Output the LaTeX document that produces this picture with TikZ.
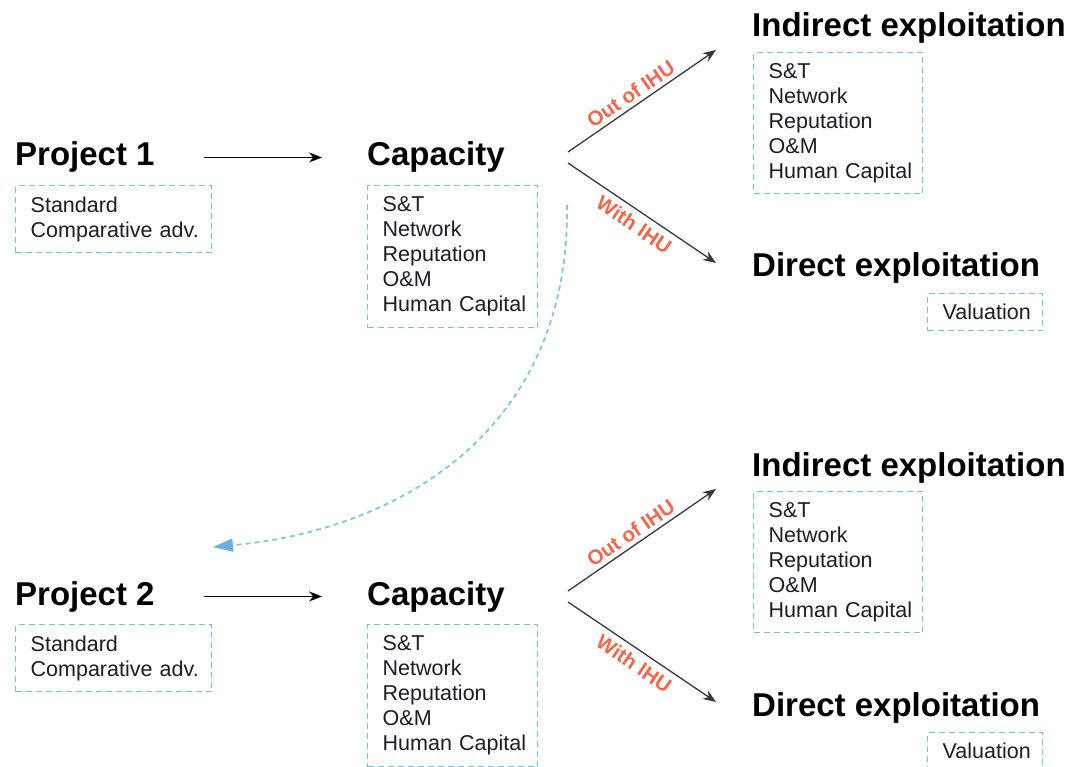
\documentclass[tikz,border=0pt]{standalone}
\usepackage{fontspec}
\setmainfont{Liberation Sans}
\usetikzlibrary{arrows.meta}
\definecolor{boxblue}{HTML}{6CC3EE}
\definecolor{curveblue}{HTML}{7EC6F0}
\definecolor{tipblue}{HTML}{6AAFE3}
\definecolor{lblred}{HTML}{F2664A}
\definecolor{txt}{HTML}{1C1C28}
\definecolor{branchgray}{HTML}{333840}
\newcommand{\oneline}[1]{\mbox{#1}}
\begin{document}
\begin{tikzpicture}[x=1pt,y=-1pt,
  title/.style={font=\fontsize{33}{38}\selectfont\bfseries, inner sep=0pt, anchor=base west},
  listbox/.style={draw=boxblue, line width=1.4pt, dash pattern=on 6pt off 4pt, anchor=north west,
    align=left, inner xsep=15pt, inner ysep=0pt, font=\fontsize{21.5}{25}\selectfont, text=txt},
  flow/.style={-{Stealth[length=13pt,width=10pt]}, line width=1.5pt},
  branch/.style={-{Stealth[length=13pt,width=10pt]}, line width=1.3pt, draw=branchgray},
  lbl/.style={font=\fontsize{20.5}{24}\selectfont\bfseries, text=lblred, sloped, inner sep=2pt}
]
\useasboundingbox (0,0) rectangle (1077,767);

\foreach \dy/\s in {0/1,439/2}{
  \node[title] (p\s) at (15,166+\dy) {Project \s};
  \node[listbox, text width=166pt, minimum height=67pt] (pb\s) at (15,185+\dy)
    {\oneline{Standard}\\\oneline{Comparative adv.}};
  \node[title] (c\s) at (367,166+\dy) {Capacity};
  \node[listbox, text width=140pt, minimum height=142pt] (cb\s) at (367,185+\dy)
    {\oneline{S\&T}\\\oneline{Network}\\\oneline{Reputation}\\\oneline{O\&M}\\\oneline{Human Capital}};
  \node[title] (i\s) at (752,37+\dy) {Indirect exploitation};
  \node[listbox, text width=139pt, minimum height=141pt] (ib\s) at (753,52+\dy)
    {\oneline{S\&T}\\\oneline{Network}\\\oneline{Reputation}\\\oneline{O\&M}\\\oneline{Human Capital}};
  \node[title] (d\s) at (752,277+\dy) {Direct exploitation};
  \node[listbox, text width=85pt, minimum height=37pt] (vb\s) at (927,293+\dy) {\oneline{Valuation}};

  \draw[flow] ([xshift=49pt]p\s.east) -- ([xshift=-45pt]c\s.west);

  \coordinate (sa\s) at (568,152+\dy);
  \coordinate (ea\s) at (716,50+\dy);
  \coordinate (sb\s) at (568,163+\dy);
  \coordinate (eb\s) at (716,263+\dy);
  \draw[branch] (sa\s) -- node[lbl, above=2pt, pos=0.47] {Out of IHU} (ea\s);
  \draw[branch] (sb\s) -- node[lbl, below=4pt, pos=0.5] {With IHU} (eb\s);
}

\coordinate (cs) at (567,205);
\coordinate (ce) at (213,547);
\draw[curveblue, line width=1.8pt, dash pattern=on 5pt off 4pt,
  -{Triangle[length=20pt,width=13pt,fill=tipblue,color=tipblue]}]
  (cs) .. controls (570,430) and (400,530) .. (ce);
\end{tikzpicture}
\end{document}
